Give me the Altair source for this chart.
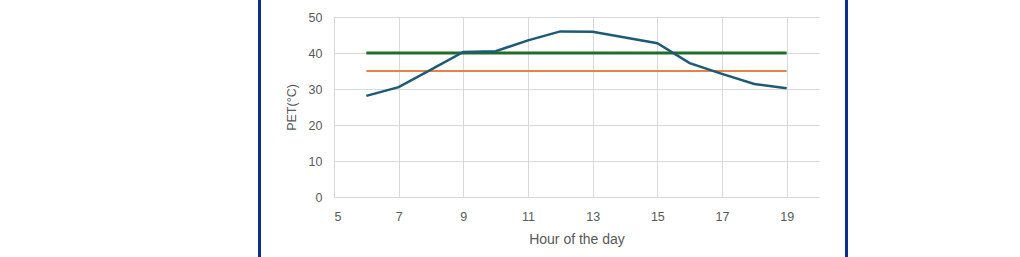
import altair as alt
import pandas as pd

hours = [6, 7, 8, 9, 10, 11, 12, 13, 14, 15, 16, 17, 18, 19]
pet = [28.1, 30.5, 35.4, 40.3, 40.5, 43.5, 46.0, 45.9, 44.3, 42.7, 37.2, 34.2, 31.4, 30.2]
threshold_hours = [6, 19]
green_level = [40, 40]
orange_level = [35, 35]

df_pet = pd.DataFrame({"hour": hours, "pet": pet})
df_green = pd.DataFrame({"hour": threshold_hours, "pet": green_level})
df_orange = pd.DataFrame({"hour": threshold_hours, "pet": orange_level})

FONT = "Liberation Sans"

xscale = alt.Scale(domain=[5, 20], nice=False, zero=False)
yscale = alt.Scale(domain=[0, 50], nice=False)

xenc = alt.X(
    "hour:Q",
    scale=xscale,
    axis=alt.Axis(
        title="Hour of the day",
        values=[5, 7, 9, 11, 13, 15, 17, 19],
        format="d",
        grid=True,
        gridColor="#d9d9d9",
        domain=False,
        ticks=False,
        labelPadding=13,
        labelFontSize=12.5,
        labelColor="#595959",
        titleFontSize=14,
        titleFontWeight="normal",
        titleColor="#595959",
        titlePadding=10,
        labelFont=FONT,
        titleFont=FONT,
    ),
)
yenc = alt.Y(
    "pet:Q",
    scale=yscale,
    axis=alt.Axis(
        title="PET(°C)",
        values=[0, 10, 20, 30, 40, 50],
        grid=True,
        gridColor="#d9d9d9",
        domain=True,
        domainColor="#d9d9d9",
        ticks=False,
        labelPadding=12,
        labelFontSize=12.5,
        labelColor="#595959",
        titleFontSize=12.5,
        titleFontWeight="normal",
        titleColor="#595959",
        titlePadding=10,
        labelFont=FONT,
        titleFont=FONT,
    ),
)

green = alt.Chart(df_green).mark_line(color="#1e6e2a", strokeWidth=3.2).encode(x=xenc, y=yenc)
orange = alt.Chart(df_orange).mark_line(color="#e8804a", strokeWidth=2).encode(x=xenc, y=yenc)
blue = alt.Chart(df_pet).mark_line(color="#1e5a78", strokeWidth=2.5).encode(x=xenc, y=yenc)

border_l = alt.Chart(df_pet).mark_rule(color="#0b2f8a", strokeWidth=3).encode(
    x=alt.value(-74.5), y=alt.value(-20), y2=alt.value(245)
)
border_r = alt.Chart(df_pet).mark_rule(color="#0b2f8a", strokeWidth=3).encode(
    x=alt.value(512.5), y=alt.value(-20), y2=alt.value(245)
)

chart = (
    alt.layer(green, orange, blue, border_l, border_r)
    .properties(
        width=485,
        height=180,
        autosize=alt.AutoSizeParams(type="none"),
        padding={"left": 334, "top": 17, "right": 201, "bottom": 60},
        background="white",
    )
    .configure_view(stroke=None)
)

chart.save("out.html", embed_options={"renderer": "svg", "actions": False})
